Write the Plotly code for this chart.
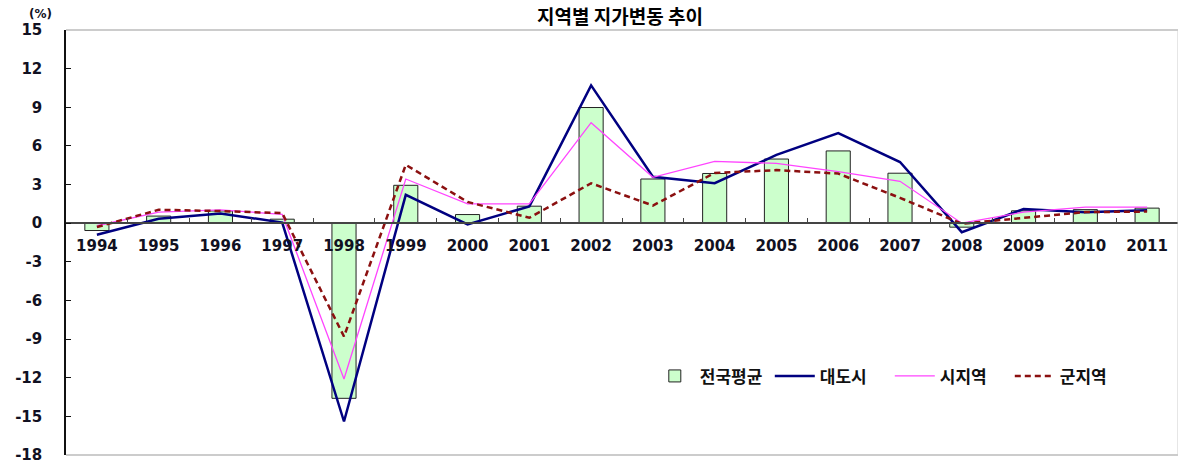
import plotly.graph_objects as go

# Annual land price change rate by region (%)
years = [str(y) for y in range(1994, 2012)]
national_avg = [-0.57, 0.55, 0.95, 0.31, -13.60, 2.94, 0.67, 1.32, 8.98, 3.43,
                3.86, 4.98, 5.61, 3.88, -0.31, 0.96, 1.05, 1.17]
metro_cities = [-0.9, 0.35, 0.76, 0.05, -15.4, 2.2, -0.1, 1.3, 10.7, 3.6,
                3.1, 5.3, 7.0, 4.75, -0.7, 1.1, 0.85, 1.0]
city_areas = [-0.2, 0.86, 1.04, 0.68, -12.1, 3.43, 1.5, 1.5, 7.8, 3.56,
              4.8, 4.64, 4.0, 3.25, 0.0, 0.86, 1.25, 1.25]
county_areas = [-0.3, 1.04, 0.94, 0.78, -8.8, 4.53, 1.65, 0.42, 3.1, 1.37,
                3.9, 4.12, 3.85, 1.97, -0.04, 0.4, 0.86, 0.9]

y_ticks = list(range(-18, 16, 3))

fig = go.Figure()
fig.add_trace(go.Bar(
    x=years, y=national_avg, name="전국평균",
    marker=dict(color="#CCFFCC", line=dict(color="#222222", width=1)),
))
fig.add_trace(go.Scatter(
    x=years, y=metro_cities, name="대도시", mode="lines",
    line=dict(color="#000080", width=2.5),
))
fig.add_trace(go.Scatter(
    x=years, y=city_areas, name="시지역", mode="lines",
    line=dict(color="#FF44FF", width=1.3),
))
fig.add_trace(go.Scatter(
    x=years, y=county_areas, name="군지역", mode="lines",
    line=dict(color="#8B1010", width=2.5, dash="6px,4px"),
))

axis_font = dict(family="DejaVu Sans", size=15, color="#111122", weight="bold")

fig.update_layout(
    width=1178, height=464,
    margin=dict(l=66, r=0, t=30, b=9),
    paper_bgcolor="white", plot_bgcolor="white",
    bargap=0.61,
    showlegend=True,
    legend=dict(
        orientation="h", x=0.525, xanchor="left", y=0.185, yanchor="middle",
        font=dict(family="Noto Sans CJK KR", size=17, color="#111111", weight="bold"),
        itemwidth=40, entrywidth=65, bgcolor="rgba(0,0,0,0)",
        traceorder="normal",
    ),
    xaxis=dict(
        type="category", anchor="free", position=18 / 33,
        showline=True, linecolor="#444444", linewidth=1.5,
        ticks="inside", tickson="boundaries", ticklen=4, tickcolor="#444444",
        showgrid=False, zeroline=False, automargin=False,
        tickfont=axis_font, ticklabelstandoff=9,
        range=[-0.5, 17.5],
    ),
    yaxis=dict(
        range=[-18.001, 15], tickvals=y_ticks, ticktext=[str(v) for v in y_ticks],
        showline=True, linecolor="#111111", linewidth=1.5,
        ticks="inside", ticklen=5, tickcolor="#111111",
        showgrid=False, zeroline=False, automargin=False,
        tickfont=axis_font, ticklabelstandoff=19,
        ticklabeloverflow="allow",
        domain=[0, 1],
    ),
    shapes=[
        dict(type="line", xref="paper", yref="paper", x0=0, x1=1, y0=1, y1=1,
             line=dict(color="#999999", width=1)),
        dict(type="line", xref="paper", yref="paper", x0=0, x1=1, y0=0, y1=0,
             line=dict(color="#999999", width=1)),
        dict(type="line", xref="paper", yref="paper", x0=1, x1=1, y0=0, y1=1,
             line=dict(color="#cccccc", width=1)),
    ],
    annotations=[
        dict(text="(%)", xref="paper", yref="paper", x=-0.011, y=1.037,
             xanchor="right", yanchor="middle", showarrow=False,
             font=dict(family="DejaVu Sans", size=12, color="#111122", weight="bold")),
        dict(text="지역별 지가변동 추이", xref="paper", yref="paper", x=0.498, y=1.0,
             xanchor="center", yanchor="bottom", showarrow=False,
             borderpad=0,
             font=dict(family="Noto Sans CJK KR", size=19, color="#000000", weight="bold")),
    ],
)

fig.write_html("out.html")
